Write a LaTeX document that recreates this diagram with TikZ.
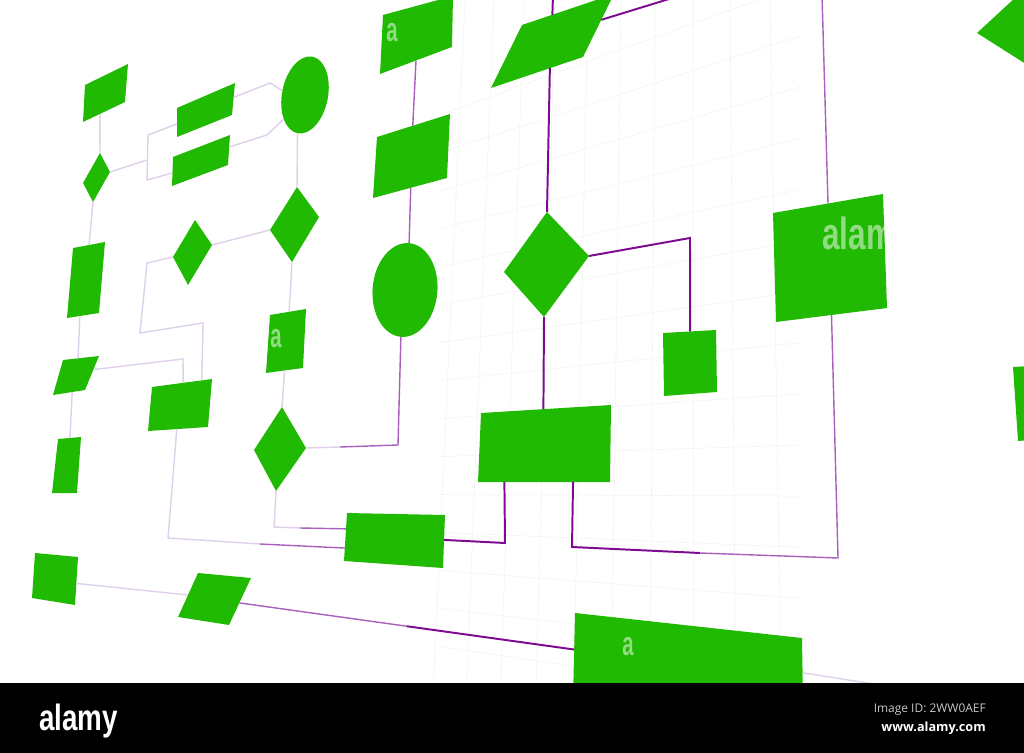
\documentclass[tikz,border=0pt]{standalone}
\usepackage{fontspec}
\usepackage{graphicx}
\usetikzlibrary{calc,shapes.geometric}
\newfontfamily\logofont{Liberation Sans}
\newfontfamily\idfont{Open Sans}

\definecolor{flowgreen}{RGB}{33,186,3}
\definecolor{linkdark}{RGB}{125,10,145}
\definecolor{linkmid}{RGB}{168,96,188}
\definecolor{linkfaint}{RGB}{222,208,232}

% Flaeche mit vier Ecken #1-1 ... #1-4
\newcommand{\flowquad}[5]{%
  \fill[flowgreen] #2 coordinate (#1-1) -- #3 coordinate (#1-2) -- #4 coordinate (#1-3) -- #5 coordinate (#1-4) -- cycle;}

\begin{document}
\begin{tikzpicture}[x=0.025cm, y=-0.025cm,
    wired/.style={linkdark, line width=1.4pt},
    wirem/.style={linkmid, line width=1pt},
    wiref/.style={linkfaint, line width=1pt},
    gridline/.style={black!5, line width=.4pt},
    blob/.style={ellipse, fill=flowgreen, inner sep=0pt},
    wmark/.style={text=white, opacity=.5, inner sep=0pt, anchor=base west}]
  \useasboundingbox (0,0) rectangle (1024,753);
  \clip (0,0) rectangle (1024,753);

  % Raster
  \foreach \y in {75,117,...,663}
    \draw[gridline] (440,{490+(\y-490)*0.904}) -- (800,{490+(\y-490)*1.217});
  \foreach \x in {465,494,524,555,588,621,655,693,730,770}
    \draw[gridline] (\x,0) -- ({690+(\x-690)*1.139},680);

  \coordinate (top1) at (553,-5);
  \coordinate (top2) at (682,-5);
  \coordinate (top3) at (822,-5);
  \coordinate (out) at (880,685);

  % Inhalt
  \flowquad{s1}{(85,85)}{(128,64)}{(125,102)}{(83,122)}
  \flowquad{ra}{(177,108)}{(235,83)}{(232,115)}{(177,137)}
  \flowquad{rb}{(173,157)}{(230,135)}{(228,165)}{(172,186)}
  \flowquad{d1}{(100,153)}{(110,172)}{(93,202)}{(83,183)}
  \flowquad{l1}{(73,248)}{(105,242)}{(99,313)}{(67,318)}
  \flowquad{d2}{(297,187)}{(319,217)}{(292,262)}{(270,230)}
  \flowquad{d3}{(195,220)}{(212,245)}{(188,285)}{(173,257)}
  \flowquad{p2}{(63,360)}{(99,356)}{(85,390)}{(53,395)}
  \flowquad{rc}{(152,387)}{(212,379)}{(208,427)}{(148,431)}
  \flowquad{re}{(270,315)}{(306,309)}{(303,368)}{(266,373)}
  \flowquad{d4}{(282,407)}{(306,448)}{(276,491)}{(254,450)}
  \flowquad{l3}{(58,439)}{(81,437)}{(77,493)}{(52,493)}
  \flowquad{l4}{(35,553)}{(78,557)}{(75,605)}{(32,598)}
  \flowquad{p3}{(198,573)}{(251,578)}{(229,625)}{(178,617)}
  \flowquad{rf}{(347,513)}{(445,515)}{(443,568)}{(344,561)}
  \flowquad{rj}{(383,15)}{(453,-4)}{(452,47)}{(380,74)}
  \flowquad{rk}{(377,137)}{(450,114)}{(447,178)}{(373,198)}
  \flowquad{pp}{(522,25)}{(614,-6)}{(583,57)}{(491,88)}
  \flowquad{d5}{(547,212)}{(589,256)}{(544,317)}{(504,272)}
  \flowquad{rg}{(481,413)}{(611,405)}{(610,482)}{(478,482)}
  \flowquad{ri}{(663,333)}{(716,330)}{(717,392)}{(664,396)}
  \flowquad{rh}{(773,213)}{(883,194)}{(887,308)}{(776,322)}
  \flowquad{rm}{(575,613)}{(802,638)}{(803,700)}{(573,700)}
  \flowquad{dr}{(1030,-16)}{(1085,25)}{(1040,73)}{(977,33)}
  \flowquad{rn}{(1013,367)}{(1030,366)}{(1030,440)}{(1018,441)}
  \node[blob, minimum width=1.15cm, minimum height=1.95cm, rotate=-11] (e1) at (305,95) {};
  \node[blob, minimum width=1.62cm, minimum height=2.35cm, rotate=-5] (e2) at (405,290) {};

  % Verbindungen
  \draw[wiref] ($(s1-4)!.4!(s1-3)$) -- (d1-1);
  \draw[wiref] (d1-3) -- ($(l1-1)!.5!(l1-2)$);
  \draw[wiref] (d1-2) -- (147,160);
  \draw[wiref] ($(ra-1)!.55!(ra-4)$) -- (148,135) -- (147,180) -- ($(rb-1)!.55!(rb-4)$);
  \draw[wiref] ($(ra-2)!.45!(ra-3)$) -- (270,83) -- (e1.west);
  \draw[wiref] ($(rb-2)!.4!(rb-3)$) -- (267,135) -- (e1.south west);
  \draw[wiref] (e1.south) -- (d2-1);
  \draw[wiref] (d2-4) -- (d3-2);
  \draw[wiref] (d3-4) -- (147,263) -- (140,333) -- (203,323) -- ($(rc-1)!.83!(rc-2)$);
  \draw[wiref] ($(p2-2)!.4!(p2-3)$) -- (183,359) -- ($(rc-1)!.52!(rc-2)$);
  \draw[wiref] ($(l1-3)!.6!(l1-4)$) -- ($(p2-1)!.42!(p2-2)$);
  \draw[wiref] ($(p2-3)!.4!(p2-4)$) -- ($(l3-1)!.52!(l3-2)$);
  \draw[wiref] (d2-3) -- ($(re-1)!.53!(re-2)$);
  \draw[wiref] ($(re-3)!.5!(re-4)$) -- (d4-1);
  \draw[wiref] ($(l4-2)!.55!(l4-3)$) -- ($(p3-1)!.5!(p3-4)$);
  \draw[wiref] ($(rm-2)!.56!(rm-3)$) -- (out);

  \draw[wiref] (d4-2) -- (340,447);
  \draw[wirem] (340,447) -- (398,445) -- (e2.south);
  \draw[wiref] (d4-3) -- (274,527) -- (300,528);
  \draw[wirem] (300,528) -- ($(rf-1)!.33!(rf-4)$);
  \draw[wiref] ($(rc-4)!.48!(rc-3)$) -- (168,538) -- (260,544);
  \draw[wirem] (260,544) -- ($(rf-1)!.73!(rf-4)$);
  \draw[wirem] ($(rj-4)!.5!(rj-3)$) -- ($(rk-1)!.49!(rk-2)$);
  \draw[wirem] ($(rk-4)!.51!(rk-3)$) -- (e2.north);
  \draw[wirem] ($(rh-1)!.5!(rh-2)$) -- (top3);

  \path ($(p3-2)!.53!(p3-3)$) coordinate (p3r) ($(rm-1)!.42!(rm-4)$) coordinate (rml);
  \draw[wirem] (p3r) -- ($(p3r)!.5!(rml)$);
  \draw[wired] ($(p3r)!.5!(rml)$) -- (rml);
  \draw[wired] ($(rf-2)!.47!(rf-3)$) -- (505,543) -- ($(rg-4)!.2!(rg-3)$);
  \draw[wired] ($(rg-4)!.72!(rg-3)$) -- (572,547) -- (700,553);
  \draw[wirem] (700,553) -- (838,558) -- ($(rh-4)!.5!(rh-3)$);
  \draw[wired] (d5-3) -- ($(rg-1)!.48!(rg-2)$);
  \draw[wired] (d5-2) -- (690,238) -- ($(ri-1)!.51!(ri-2)$);
  \draw[wired] (d5-1) -- ($(pp-4)!.64!(pp-3)$);
  \draw[wired] ($(pp-1)!.33!(pp-2)$) -- (top1);
  \draw[wired] ($(pp-2)!.41!(pp-3)$) -- (top2);

  \begin{scope}
    \clip (rh-1) -- (rh-2) -- (rh-3) -- (rh-4) -- cycle;
    \node[wmark] (wm1) at (822,250) {\logofont\bfseries\fontsize{32}{32}\selectfont\scalebox{.7}[1]{alam}};
  \end{scope}
  \node[wmark] (wm2) at (386,42) {\logofont\bfseries\fontsize{24}{24}\selectfont\scalebox{.6}[1]{a}};
  \node[wmark] (wm3) at (270,348) {\logofont\bfseries\fontsize{24}{24}\selectfont\scalebox{.6}[1]{a}};
  \node[wmark] (wm4) at (622,655) {\logofont\bfseries\fontsize{24}{24}\selectfont\scalebox{.6}[1]{a}};

  % Leiste
  \fill[black] (0,683) rectangle (1024,753);
  \node[anchor=base west, inner sep=0pt, text=white] (logo) at (39,730)
    {\logofont\bfseries\fontsize{26}{26}\selectfont\scalebox{.76}[1]{alamy}};
  \node[anchor=base east, inner sep=0pt, text=black!22] (imgid) at (986,712)
    {\idfont\fontsize{8.5}{9}\selectfont Image ID: 2WW0AEF};
  \node[anchor=base east, inner sep=0pt, text=white] (site) at (986,731)
    {\idfont\bfseries\fontsize{9}{10}\selectfont www.alamy.com};
\end{tikzpicture}
\end{document}
